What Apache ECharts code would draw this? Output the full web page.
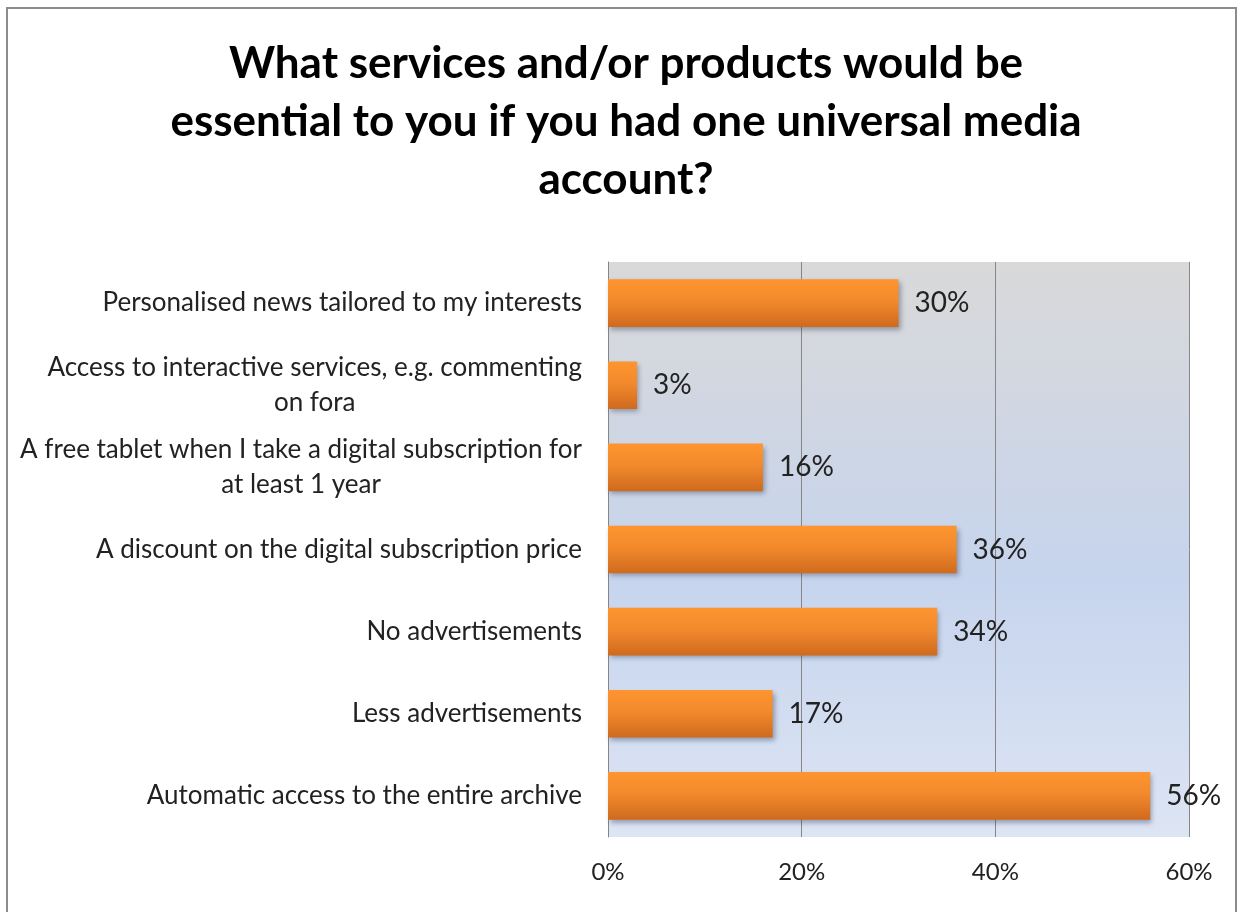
<!DOCTYPE html>
<html>
<head>
<meta charset="utf-8">
<script src="https://cdn.jsdelivr.net/npm/echarts@6/dist/echarts.min.js"></script>
<style>
  html, body { margin: 0; padding: 0; background: #fff; }
  #chart { width: 1242px; height: 912px; }
</style>
</head>
<body>
<div id="chart"></div>
<script>
// Survey answers, listed top to bottom
const categories = [
  'Personalised news tailored to my interests',
  'Access to interactive services, e.g. commenting\non fora',
  'A free tablet when I take a digital subscription for\nat least 1 year',
  'A discount on the digital subscription price',
  'No advertisements',
  'Less advertisements',
  'Automatic access to the entire archive'
];
// Share of respondents (%)
const values = [30, 3, 16, 36, 34, 17, 56];
// Horizontal axis ticks (%)
const xTicks = [0, 20, 40, 60];

const titleText = 'What services and/or products would be\nessential to you if you had one universal media\naccount?';
const FONT = 'Lato, "Open Sans", sans-serif';

const chart = echarts.init(document.getElementById('chart'), null, { renderer: 'canvas' });

chart.setOption({
  animation: false,
  backgroundColor: '#ffffff',
  title: {
    text: titleText,
    left: 621,
    top: 30,
    textAlign: 'center',
    textStyle: {
      fontFamily: FONT,
      fontWeight: 'bold',
      fontSize: 44,
      lineHeight: 58,
      color: '#000000'
    }
  },
  graphic: [{
    type: 'rect',
    shape: { x: 7, y: 8, width: 1229, height: 920 },
    style: { fill: 'none', stroke: '#8c8c8c', lineWidth: 2 },
    silent: true,
    z: 100
  }],
  grid: {
    left: 608,
    right: 53,
    top: 262,
    bottom: 75,
    show: true,
    borderWidth: 0,
    backgroundColor: {
      type: 'linear', x: 0, y: 0, x2: 0, y2: 1,
      colorStops: [
        { offset: 0, color: '#d9d9d9' },
        { offset: 0.55, color: '#c6d4ed' },
        { offset: 1, color: '#dde5f4' }
      ]
    }
  },
  xAxis: {
    type: 'value',
    min: xTicks[0],
    max: xTicks[xTicks.length - 1],
    interval: xTicks[1] - xTicks[0],
    axisLine: { show: false },
    axisTick: { show: false },
    splitLine: { show: true, lineStyle: { color: '#868686', width: 1 } },
    axisLabel: {
      formatter: v => v + '%',
      fontFamily: FONT,
      fontSize: 24,
      color: '#222222',
      margin: 23
    }
  },
  yAxis: {
    type: 'category',
    inverse: true,
    data: categories,
    axisLine: { show: true, lineStyle: { color: '#868686', width: 1 } },
    axisTick: { show: false },
    axisLabel: {
      margin: 26,
      align: 'right',
      formatter: v => v.split('\n').map(s => '{c|' + s + '}').join('\n'),
      rich: {
        c: {
          align: 'center',
          fontFamily: FONT,
          fontSize: 26,
          lineHeight: 35,
          color: '#222222'
        }
      }
    }
  },
  series: [{
    type: 'bar',
    data: values,
    barWidth: '58%',
    itemStyle: {
      color: {
        type: 'linear', x: 0, y: 0, x2: 0, y2: 1,
        colorStops: [
          { offset: 0, color: '#ff9530' },
          { offset: 0.45, color: '#f28a2c' },
          { offset: 1, color: '#cf6a1e' }
        ]
      },
      shadowColor: 'rgba(40, 50, 80, 0.4)',
      shadowBlur: 5,
      shadowOffsetX: 2,
      shadowOffsetY: 3
    },
    label: {
      show: true,
      position: 'right',
      distance: 16,
      formatter: p => p.value + '%',
      fontFamily: FONT,
      fontSize: 28,
      color: '#222222'
    }
  }]
});
</script>
</body>
</html>
